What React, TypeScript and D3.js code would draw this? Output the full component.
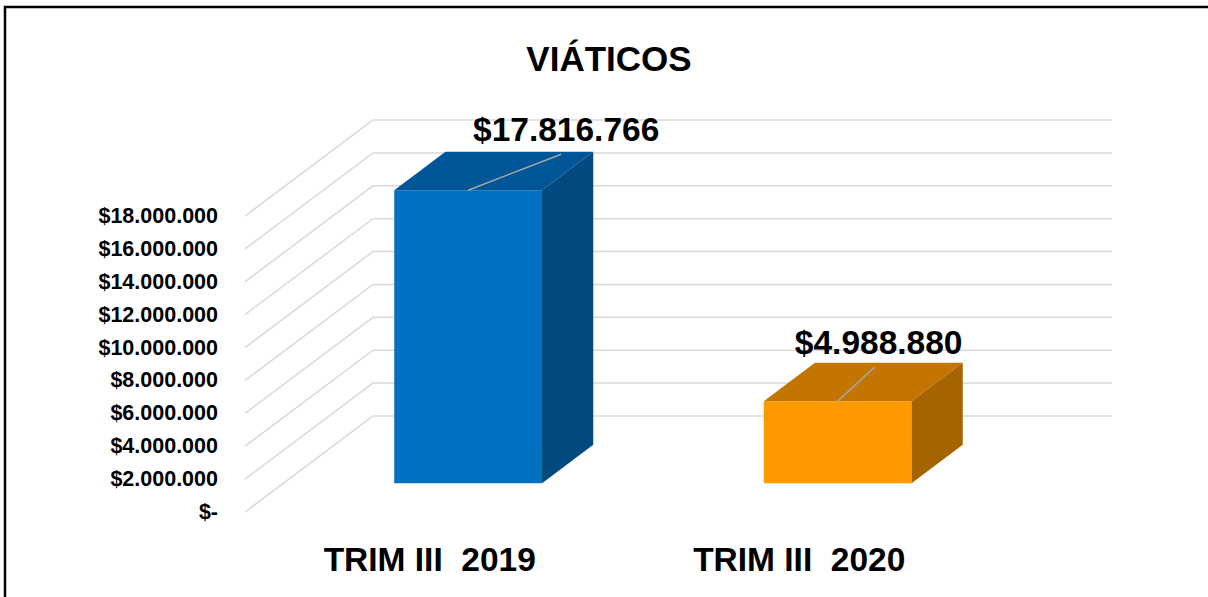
import React from "react";
import * as d3 from "d3";

// chart data
const categories = ["TRIM III  2019", "TRIM III  2020"];
const values = [17816766, 4988880];
const yTicks = [0, 2e6, 4e6, 6e6, 8e6, 10e6, 12e6, 14e6, 16e6, 18e6];
const title = "VIÁTICOS";

const frontColors = ["#0070C0", "#FF9900"];
const topColors = ["#005696", "#C47500"];
const sideColors = ["#004A80", "#A66400"];

const locale = d3.formatLocale({
  decimal: ",",
  thousands: ".",
  grouping: [3],
  currency: ["$", ""],
});
const fmt = locale.format("$,.0f");
const tickLabel = (v: number) => (v === 0 ? "$-" : fmt(v));

const W = 1208;
const H = 597;
const FONT = "'Liberation Sans', Arial, sans-serif";

export default function App() {
  // floor front edge and depth of the 3d box
  const x0 = 245;
  const x1 = 984;
  const yBase = 512;
  const depthX = 128;
  const depthY = 96;
  const zFront = 0.3;
  const zBack = 0.7;

  const xScale = d3
    .scaleBand<string>()
    .domain(categories)
    .range([x0, x1])
    .paddingInner(0.6)
    .paddingOuter(0.3);

  const hScale = d3.scaleLinear().domain([0, 18e6]).range([0, 296]);

  const proj = (x: number, h: number, z: number): [number, number] => [
    x + z * depthX,
    yBase - h - z * depthY,
  ];

  const pts = (arr: [number, number][]) => arr.map((p) => p.join(",")).join(" ");

  // manual label offsets from the top-front centre of each bar
  const labelOffsets = [
    { lx: 98, ly: -49, ex: 93, ey: -36 },
    { lx: 41, ly: -47, ex: 37, ey: -34 },
  ];

  return (
    <svg
      width={W}
      height={H}
      style={{ position: "absolute", left: 0, top: 0, background: "#fff" }}
      fontFamily={FONT}
    >
      <path d={`M5,${H} L5,7 L${W},7`} fill="none" stroke="#000" strokeWidth={2.5} />

      <text x={609} y={71} textAnchor="middle" fontSize={35} fontWeight="bold" fill="#000">
        {title}
      </text>

      {/* gridlines: floor-side diagonal + back wall */}
      <g stroke="#D9D9D9" strokeWidth={1.5} fill="none">
        {yTicks.map((t) => {
          const h = hScale(t);
          const a = proj(x0, h, 0);
          const b = proj(x0, h, 1);
          const c = proj(x1, h, 1);
          return <polyline key={t} points={pts([a, b, c])} />;
        })}
      </g>

      <g fontSize={21.5} fontWeight="bold" fill="#000" textAnchor="end">
        {yTicks.map((t) => (
          <text key={t} x={218} y={yBase - hScale(t)} dominantBaseline="central">
            {tickLabel(t)}
          </text>
        ))}
      </g>

      {categories.map((c, i) => {
        const xl = xScale(c)!;
        const xr = xl + xScale.bandwidth();
        const h = hScale(values[i]);
        const fbl = proj(xl, 0, zFront);
        const fbr = proj(xr, 0, zFront);
        const ftl = proj(xl, h, zFront);
        const ftr = proj(xr, h, zFront);
        const btl = proj(xl, h, zBack);
        const btr = proj(xr, h, zBack);
        const bbr = proj(xr, 0, zBack);
        return (
          <g key={c}>
            <polygon points={pts([fbl, fbr, ftr, ftl])} fill={frontColors[i]} />
            <polygon points={pts([ftl, ftr, btr, btl])} fill={topColors[i]} />
            <polygon points={pts([fbr, bbr, btr, ftr])} fill={sideColors[i]} />
          </g>
        );
      })}

      {categories.map((c, i) => {
        const cx = xScale(c)! + xScale.bandwidth() / 2;
        const [px, py] = proj(cx, hScale(values[i]), zFront);
        const o = labelOffsets[i];
        return (
          <g key={c}>
            <line
              x1={px}
              y1={py}
              x2={px + o.ex}
              y2={py + o.ey}
              stroke="#A6A6A6"
              strokeWidth={1.5}
            />
            <text
              x={px + o.lx}
              y={py + o.ly}
              textAnchor="middle"
              fontSize={33.5}
              fontWeight="bold"
              fill="#000"
            >
              {fmt(values[i])}
            </text>
          </g>
        );
      })}

      {categories.map((c) => (
        <text
          key={c}
          x={xScale(c)! + xScale.bandwidth() / 2}
          y={571}
          textAnchor="middle"
          fontSize={33.5}
          fontWeight="bold"
          fill="#000"
          style={{ whiteSpace: "pre" }}
        >
          {c}
        </text>
      ))}
    </svg>
  );
}
